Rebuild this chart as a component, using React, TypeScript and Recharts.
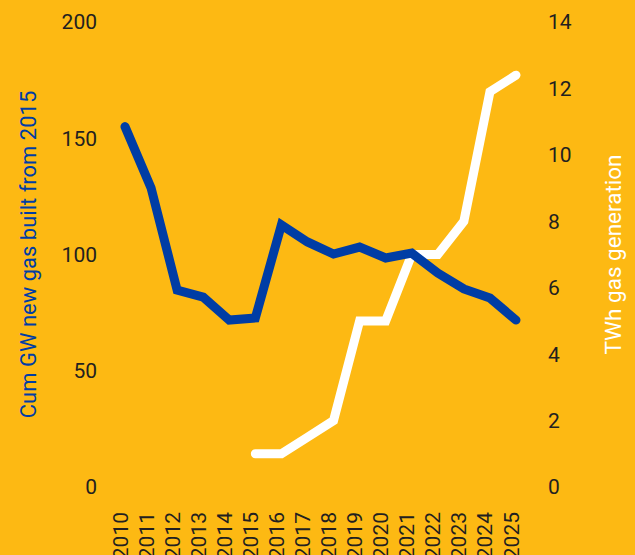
import React from "react";
import { LineChart, Line, XAxis, YAxis } from "recharts";

const years = ["2010","2011","2012","2013","2014","2015","2016","2017","2018","2019","2020","2021","2022","2023","2024","2025"];
const cumGasGW = [155, 128.6, 84.7, 81.7, 71.8, 72.7, 112.7, 105.4, 100.2, 103.2, 98.5, 100.6, 92, 85.2, 81.3, 71.8];
const gasTWh: (number | null)[] = [null, null, null, null, null, 1, 1, 1.5, 2, 5, 5, 7, 7, 8, 11.9, 12.4];
const leftTicks = [0, 50, 100, 150, 200];
const rightTicks = [0, 2, 4, 6, 8, 10, 12, 14];
const leftTitle = "Cum GW new gas built from 2015";
const rightTitle = "TWh gas generation";

const data = years.map((y, i) => ({ year: y, gw: cumGasGW[i], twh: gasTWh[i] }));

const BG = "#FDB913";
const BLUE = "#003DA5";
const TEXT = "#231F20";
const FONT = "Roboto, 'Liberation Sans', sans-serif";

const XTick = (props: any) => {
  const { x, y, payload } = props;
  return (
    <text
      x={x}
      y={y}
      transform={`rotate(-90 ${x} ${y})`}
      textAnchor="end"
      dy="0.12em"
      fill={TEXT}
      fontSize={21}
      fontFamily={FONT}
    >
      {payload.value}
    </text>
  );
};

const LeftTitle = (props: any) => {
  const vb = props.viewBox;
  const cx = 28;
  const cy = vb.y + vb.height / 2;
  return (
    <text x={cx} y={cy} transform={`rotate(-90 ${cx} ${cy})`} textAnchor="middle" dominantBaseline="central" fill={BLUE} fontSize={22} fontFamily={FONT}>
      {leftTitle}
    </text>
  );
};

const RightTitle = (props: any) => {
  const vb = props.viewBox;
  const cx = 613;
  const cy = vb.y + vb.height / 2;
  return (
    <text x={cx} y={cy} transform={`rotate(-90 ${cx} ${cy})`} textAnchor="middle" dominantBaseline="central" fill="#FFFFFF" fontSize={22.5} fontFamily={FONT}>
      {rightTitle}
    </text>
  );
};

export default function App() {
  return (
    <div style={{ position: "absolute", left: 0, top: 0, width: 635, height: 555, background: BG }}>
      <LineChart width={635} height={555} data={data} margin={{ top: 22, right: 0, bottom: 0, left: 0 }}>
        <XAxis
          dataKey="year"
          height={68}
          axisLine={false}
          tickLine={false}
          tickSize={0}
          tickMargin={25}
          interval={0}
          tick={<XTick />}
          padding={{ left: 0, right: 0 }}
        />
        <YAxis
          yAxisId="left"
          orientation="left"
          width={125}
          domain={[0, 200]}
          ticks={leftTicks}
          axisLine={false}
          tickLine={false}
          tickSize={0}
          tickMargin={28}
          tick={{ fill: TEXT, fontSize: 21, fontFamily: FONT }}
          label={<LeftTitle />}
        />
        <YAxis
          yAxisId="right"
          orientation="right"
          width={119}
          domain={[0, 14]}
          ticks={rightTicks}
          axisLine={false}
          tickLine={false}
          tickSize={0}
          tickMargin={32}
          tick={{ fill: TEXT, fontSize: 21, fontFamily: FONT, textAnchor: "start" }}
          label={<RightTitle />}
        />
        <Line yAxisId="right" dataKey="twh" stroke="#FFFFFF" strokeWidth={9} dot={false} strokeLinecap="round" isAnimationActive={false} />
        <Line yAxisId="left" dataKey="gw" stroke={BLUE} strokeWidth={9} dot={false} strokeLinecap="round" isAnimationActive={false} />
      </LineChart>
    </div>
  );
}
